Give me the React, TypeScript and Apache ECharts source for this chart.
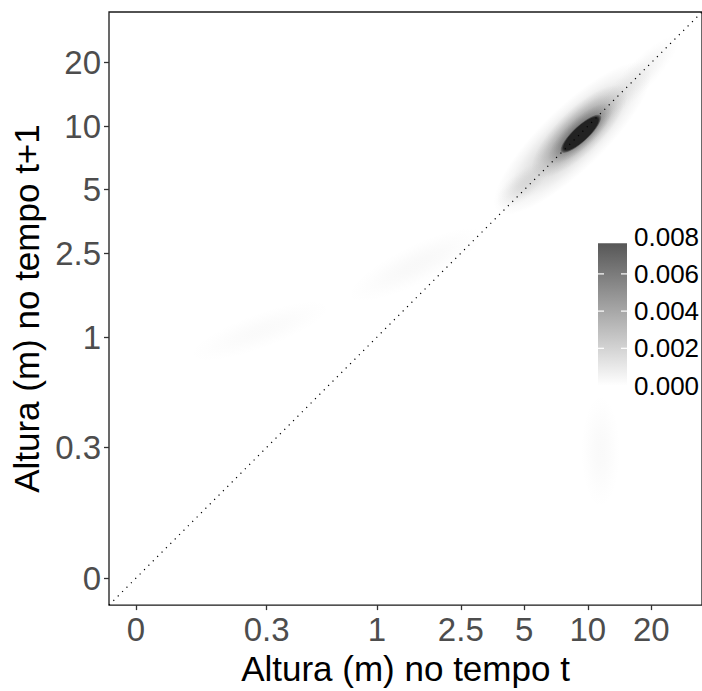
import { useEffect, useRef } from "react";
import * as echarts from "echarts";

// ---- axis ticks (metres) ----
const tickValues = [0, 0.3, 1, 2.5, 5, 10, 20];
const tickLabels = ["0", "0.3", "1", "2.5", "5", "10", "20"];
const ZERO_AT = 0.072; // where the "0" tick sits on the log axis (m)
const AXIS_MIN = 0.0537; // m
const AXIS_MAX = 34.8; // m

// ---- density blobs ----
// centre x (m, time t), centre y (m, time t+1), half-length along / across (decades), angle (deg), peak density
const blobX = [8.47, 9.13, 9.23, 17.4, 4.89, 1.54, 0.28, 11.5];
const blobY = [8.77, 9.46, 9.26, 17.1, 5.23, 2.21, 1.07, 0.288];
const blobMajor = [0.5, 0.3, 0.2, 0.27, 0.15, 0.36, 0.36, 0.27];
const blobMinor = [0.15, 0.105, 0.068, 0.07, 0.065, 0.094, 0.085, 0.094];
const blobAngle = [44, 44, 43, 46, 40, 26, 20, 90];
const blobPeak = [0.0024, 0.0042, 0.005, 0.0006, 0.0009, 0.0003, 0.00022, 0.00025];

// saturated dark core
const coreX = [9.28];
const coreY = [9.21];
const coreMajor = [0.127];
const coreMinor = [0.0375];
const coreAngle = [43];

// ---- legend ----
const legendBreaks = [0, 0.002, 0.004, 0.006, 0.008];
const densityMax = 0.00765;

const FONT = "'Liberation Sans', Arial, Helvetica, sans-serif";
const HIGH_RGB = "87,87,87";

const toAxis = (v: number) => Math.log10(Math.max(v, ZERO_AT));
const labelFor = (t: number) => {
  for (let i = 0; i < tickValues.length; i++) {
    if (Math.abs(toAxis(tickValues[i]) - t) < 1e-6) return tickLabels[i];
  }
  return "";
};

const profile = [
  [0, 1],
  [0.2, 0.92],
  [0.4, 0.72],
  [0.6, 0.45],
  [0.8, 0.18],
  [1, 0],
];

export default function App() {
  const ref = useRef<HTMLDivElement>(null);

  useEffect(() => {
    if (!ref.current) return;
    const chart = echarts.init(ref.current, undefined, { renderer: "svg" });

    const tMin = Math.log10(AXIS_MIN);
    const tMax = Math.log10(AXIS_MAX);
    const tickPos = tickValues.map(toAxis);

    const blobData = blobX.map((x, i) => [
      toAxis(x),
      toAxis(blobY[i]),
      blobMajor[i],
      blobMinor[i],
      blobAngle[i],
      blobPeak[i],
    ]);
    const coreData = coreX.map((x, i) => [
      toAxis(x),
      toAxis(coreY[i]),
      coreMajor[i],
      coreMinor[i],
      coreAngle[i],
    ]);

    const axisCommon = (name: string, gap: number) => ({
      type: "value" as const,
      min: tMin,
      max: tMax,
      name,
      nameLocation: "middle" as const,
      nameGap: gap,
      nameTextStyle: { fontSize: 35, color: "#000", fontFamily: FONT },
      axisLine: { show: false, onZero: false },
      splitLine: { show: false },
      axisTick: {
        show: true,
        length: 5,
        customValues: tickPos,
        lineStyle: { color: "#333", width: 1.3 },
      },
      axisLabel: {
        customValues: tickPos,
        formatter: (v: number) => labelFor(v),
        fontSize: 33,
        color: "#4d4d4d",
        fontFamily: FONT,
        margin: 8,
      },
    });

    // legend geometry
    const legBottom = 385.5;
    const legTopBreak = 236.7;
    const yOf = (v: number) =>
      legBottom - (v / legendBreaks[legendBreaks.length - 1]) * (legBottom - legTopBreak);
    const barLeft = 598;
    const barW = 29;
    const legendGraphics: any[] = [
      {
        type: "rect",
        shape: { x: barLeft, y: yOf(densityMax), width: barW, height: yOf(0) - yOf(densityMax) },
        style: {
          fill: {
            type: "linear",
            x: 0,
            y: 0,
            x2: 0,
            y2: 1,
            colorStops: [
              { offset: 0, color: `rgb(${HIGH_RGB})` },
              { offset: 1, color: "#ffffff" },
            ],
          },
        },
      },
    ];
    legendBreaks.forEach((b) => {
      const y = yOf(b);
      if (b > 0 && b < densityMax) {
        legendGraphics.push({
          type: "line",
          shape: { x1: barLeft, y1: y, x2: barLeft + 6, y2: y },
          style: { stroke: "#fff", lineWidth: 1.2 },
        });
        legendGraphics.push({
          type: "line",
          shape: { x1: barLeft + barW - 6, y1: y, x2: barLeft + barW, y2: y },
          style: { stroke: "#fff", lineWidth: 1.2 },
        });
      }
      legendGraphics.push({
        type: "text",
        x: 634,
        y,
        style: {
          text: b.toFixed(3),
          fontSize: 26,
          fill: "#000",
          fontFamily: FONT,
          align: "left",
          verticalAlign: "middle",
        },
      });
    });

    chart.setOption({
      animation: false,
      backgroundColor: "#fff",
      grid: {
        left: 109,
        top: 12,
        right: -7,
        bottom: 78,
        show: true,
        borderColor: "#1a1a1a",
        borderWidth: 1.3,
        backgroundColor: "#fff",
      },
      xAxis: axisCommon("Altura (m) no tempo t", 38),
      yAxis: axisCommon("Altura (m) no tempo t+1", 62),
      graphic: legendGraphics,
      series: [
        {
          type: "custom",
          name: "density",
          silent: true,
          encode: { x: 0, y: 1 },
          data: blobData,
          renderItem: (_params: any, api: any) => {
            const c = api.coord([api.value(0), api.value(1)]);
            const sz = api.size([api.value(2), api.value(3)]);
            const rx = sz[0];
            const ry = sz[1];
            const a = Math.min(1, api.value(5) / densityMax);
            return {
              type: "circle",
              x: c[0],
              y: c[1],
              rotation: (api.value(4) * Math.PI) / 180,
              scaleX: rx / ry,
              scaleY: 1,
              shape: { cx: 0, cy: 0, r: ry },
              style: {
                stroke: null,
                fill: {
                  type: "radial",
                  x: 0.5,
                  y: 0.5,
                  r: 0.5,
                  global: false,
                  colorStops: profile.map(([o, f]) => ({
                    offset: o,
                    color: `rgba(${HIGH_RGB},${(a * f).toFixed(4)})`,
                  })),
                },
              },
            };
          },
        },
        {
          type: "custom",
          name: "core",
          silent: true,
          encode: { x: 0, y: 1 },
          data: coreData,
          renderItem: (_params: any, api: any) => {
            const c = api.coord([api.value(0), api.value(1)]);
            const sz = api.size([api.value(2), api.value(3)]);
            return {
              type: "circle",
              x: c[0],
              y: c[1],
              rotation: (api.value(4) * Math.PI) / 180,
              scaleX: sz[0] / sz[1],
              scaleY: 1,
              shape: { cx: 0, cy: 0, r: sz[1] },
              style: {
                stroke: null,
                fill: {
                  type: "radial",
                  x: 0.5,
                  y: 0.5,
                  r: 0.5,
                  global: false,
                  colorStops: [
                    { offset: 0, color: "rgba(34,34,34,1)" },
                    { offset: 0.85, color: "rgba(34,34,34,1)" },
                    { offset: 1, color: "rgba(34,34,34,0.2)" },
                  ],
                },
              },
            };
          },
        },
        {
          type: "line",
          name: "identity",
          silent: true,
          symbol: "none",
          data: [
            [tMin, tMin],
            [tMax, tMax],
          ],
          lineStyle: { color: "#000", width: 1.2, type: [1.2, 5] },
          z: 5,
        },
      ],
    });

    return () => chart.dispose();
  }, []);

  return (
    <div
      ref={ref}
      style={{ position: "fixed", left: 0, top: 0, width: 702, height: 691, background: "#fff" }}
    />
  );
}
